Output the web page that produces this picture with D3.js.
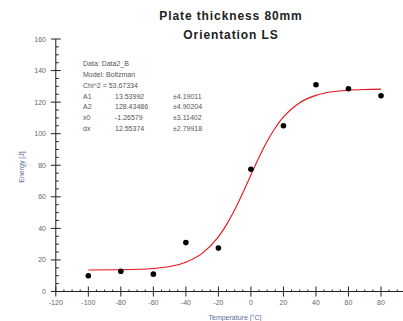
<!DOCTYPE html>
<html><head><meta charset="utf-8">
<script src="https://cdn.jsdelivr.net/npm/d3@7"></script>
<style>body{margin:0;background:#fff}svg{display:block}</style>
</head><body>
<script>
const xTicks = [-120,-100,-80,-60,-40,-20,0,20,40,60,80];
const yTicks = [0,20,40,60,80,100,120,140,160];
const temps = [-100,-80,-60,-40,-20,0,20,40,60,80];
const energy = [10,12.8,11,31,27.5,77.5,105,131,128.5,124];
const curveX = [-100,-80,-60,-50,-40,-30,-20,-15,-10,-5,0,5,10,15,20,30,40,50,60,70,80];
const curveY = [13.58,13.76,14.60,15.86,18.56,24.12,34.63,42.36,51.77,62.51,73.88,85.03,95.16,103.74,110.59,119.64,124.29,126.53,127.56,128.04,128.25];
const fitLabels = ["A1","A2","x0","dx"];
const fitValues = ["13.53992","128.43486","-1.26579","12.55374"];
const fitErrors = ["\u00b14.19011","\u00b14.90204","\u00b13.11402","\u00b12.79918"];
const headerLines = ["Data: Data2_B","Model: Boltzman","Chi^2 = 53.67334"];

const W=403,H=321;
const svg=d3.select("body").append("svg").attr("width",W).attr("height",H);
const x=d3.scaleLinear().domain([-120,80]).range([55.8,381]);
const y=d3.scaleLinear().domain([0,160]).range([291.5,39]);
const xEnd=403;
const font="Arial, 'Liberation Sans', sans-serif";
const tickCol="#666";

// title
svg.append("text").attr("x",231).attr("y",20).attr("text-anchor","middle")
 .style("font-family",font).style("font-weight","bold").style("font-size","12px").style("letter-spacing","0.9px").attr("fill","#222").text("Plate thickness 80mm");
svg.append("text").attr("x",231).attr("y",39).attr("text-anchor","middle")
 .style("font-family",font).style("font-weight","bold").style("font-size","12px").style("letter-spacing","0.9px").attr("fill","#222").text("Orientation LS");

const ax=svg.append("g").attr("stroke","#222").attr("stroke-width",1);
// axes lines
ax.append("line").attr("x1",x(-120)).attr("x2",x(-120)).attr("y1",y(0)).attr("y2",y(160));
ax.append("line").attr("x1",x(-120)).attr("x2",xEnd).attr("y1",y(0)).attr("y2",y(0));
// y major ticks
yTicks.forEach(v=>{
  ax.append("line").attr("x1",x(-120)-5).attr("x2",x(-120)+5).attr("y1",y(v)).attr("y2",y(v));
});
d3.range(5,160,5).filter(v=>v%20!==0).forEach(v=>{
  ax.append("line").attr("x1",x(-120)).attr("x2",x(-120)+3).attr("y1",y(v)).attr("y2",y(v));
});
// x major ticks
xTicks.forEach(v=>{
  ax.append("line").attr("x1",x(v)).attr("x2",x(v)).attr("y1",y(0)-5).attr("y2",y(0)+5);
});
d3.range(-115,96,5).filter(v=>v%20!==0).forEach(v=>{
  ax.append("line").attr("x1",x(v)).attr("x2",x(v)).attr("y1",y(0)-2).attr("y2",y(0));
});
// tick labels
svg.append("g").selectAll("text").data(yTicks).join("text")
 .attr("x",46).attr("y",d=>y(d)+2.5).attr("text-anchor","end")
 .style("font-family",font).style("font-size","7px").attr("fill",tickCol).text(d=>d);
svg.append("g").selectAll("text").data(xTicks).join("text")
 .attr("x",d=>x(d)).attr("y",305).attr("text-anchor","middle")
 .style("font-family",font).style("font-size","7px").attr("fill",tickCol).text(d=>d);
// axis titles
svg.append("text").attr("transform","translate(24,167) rotate(-90)").attr("text-anchor","middle")
 .style("font-family",font).style("font-size","7px").attr("fill","#5b6b9b").text("Energy [J]");
svg.append("text").attr("x",235).attr("y",320).attr("text-anchor","middle")
 .style("font-family",font).style("font-size","7px").attr("fill","#5b6b9b").text("Temperature [\u00b0C]");

// curve
const cdata=curveX.map((v,i)=>[v,curveY[i]]);
svg.append("path").datum(cdata).attr("fill","none").attr("stroke","#e8101a").attr("stroke-width",1.1)
 .attr("d",d3.line().x(d=>x(d[0])).y(d=>y(d[1])).curve(d3.curveMonotoneX));
// points
svg.append("g").selectAll("circle").data(temps.map((t,i)=>[t,energy[i]])).join("circle")
 .attr("cx",d=>x(d[0])).attr("cy",d=>y(d[1])).attr("r",2.8).attr("fill","#000");

// annotation
const ann=svg.append("g").style("font-family",font).style("font-size","7px").attr("fill","#555");
headerLines.forEach((t,i)=>ann.append("text").attr("x",83).attr("y",66+i*10.8).text(t));
fitLabels.forEach((t,i)=>{
  const yy=98.5+i*10.8;
  ann.append("text").attr("x",83).attr("y",yy).text(t);
  ann.append("text").attr("x",115).attr("y",yy).text(fitValues[i]);
  ann.append("text").attr("x",173).attr("y",yy).text(fitErrors[i]);
});
</script>
</body></html>
